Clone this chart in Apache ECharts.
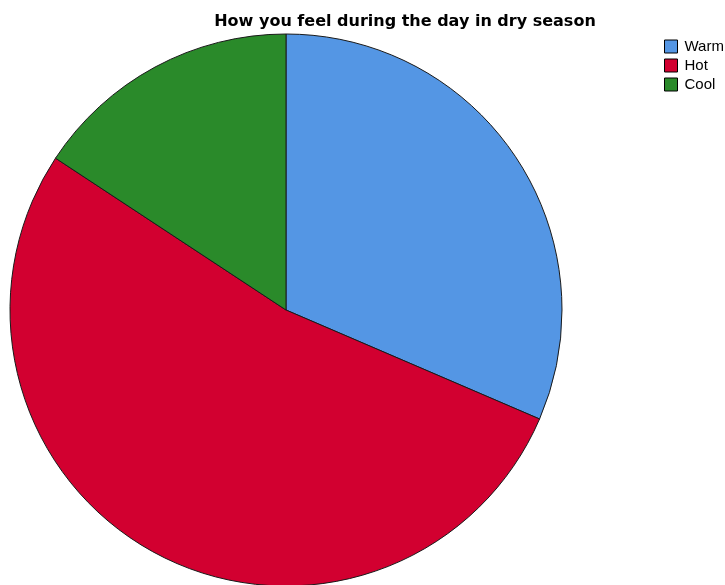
<!DOCTYPE html>
<html>
<head>
<meta charset="utf-8">
<script src="https://cdn.jsdelivr.net/npm/echarts@6/dist/echarts.min.js"></script>
<style>
html, body { margin: 0; padding: 0; background: #fff; }
#chart { width: 725px; height: 585px; }
</style>
</head>
<body>
<div id="chart"></div>
<script>
// Survey responses: how people feel during the day in the dry season
const categories = ['Warm', 'Hot', 'Cool'];
const counts = [28, 47, 14];
const colors = ['#5496E4', '#D20030', '#2A8A2A'];

const chart = echarts.init(document.getElementById('chart'), null, { renderer: 'canvas' });

chart.setOption({
  animation: false,
  backgroundColor: '#ffffff',
  title: {
    text: 'How you feel during the day in dry season',
    left: 400,
    textAlign: 'center',
    top: 9,
    textStyle: { fontFamily: 'DejaVu Sans, sans-serif', fontSize: 16, fontWeight: 'bold', color: '#000' }
  },
  legend: {
    orient: 'vertical',
    left: 664,
    top: 39,
    padding: 0,
    itemWidth: 13,
    itemHeight: 13,
    itemGap: 4,
    icon: 'rect',
    data: categories,
    itemStyle: { borderColor: '#000', borderWidth: 1 },
    textStyle: { fontFamily: 'Liberation Sans, Arial, sans-serif', fontSize: 15, color: '#000', padding: [0, 0, 0, 2] }
  },
  series: [{
    type: 'pie',
    center: [286, 310],
    radius: 276,
    startAngle: 90,
    clockwise: true,
    label: { show: false },
    labelLine: { show: false },
    emphasis: { disabled: true },
    itemStyle: { borderColor: '#1a1a1a', borderWidth: 1 },
    data: categories.map((name, i) => ({
      name: name,
      value: counts[i],
      itemStyle: { color: colors[i] }
    }))
  }]
});
</script>
</body>
</html>
